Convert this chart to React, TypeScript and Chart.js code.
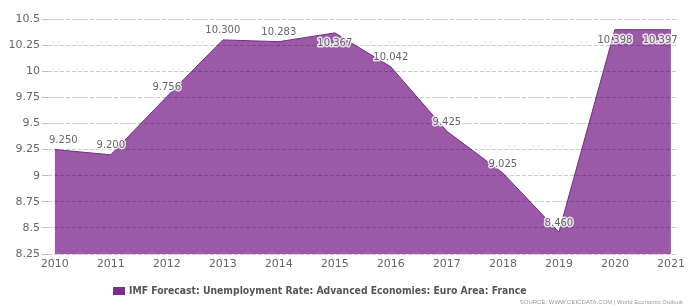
import React, { useEffect, useRef } from "react";
import { Chart, registerables } from "chart.js";

Chart.register(...registerables);

const years = [2010, 2011, 2012, 2013, 2014, 2015, 2016, 2017, 2018, 2019, 2020, 2021];
const values = [9.25, 9.2, 9.756, 10.3, 10.283, 10.367, 10.042, 9.425, 9.025, 8.46, 10.398, 10.397];
const yTicks = [8.25, 8.5, 8.75, 9, 9.25, 9.5, 9.75, 10, 10.25, 10.5];
const seriesName = "IMF Forecast: Unemployment Rate: Advanced Economies: Euro Area: France";
const sourceText = "SOURCE: WWW.CEICDATA.COM | World Economic Outlook";

const FONT = "'DejaVu Sans', Verdana, sans-serif";

const labelPlugin = {
  id: "labels",
  afterDraw(chart: any) {
    const ctx = chart.ctx;
    const meta = chart.getDatasetMeta(0);
    const area = chart.chartArea;
    ctx.save();
    ctx.font = `10px ${FONT}`;
    ctx.textAlign = "center";
    ctx.textBaseline = "middle";
    meta.data.forEach((pt: any, i: number) => {
      const txt = values[i].toFixed(3);
      const w = ctx.measureText(txt).width;
      let x = pt.x;
      let y = pt.y - 9;
      if (y - 6 < area.top) y = pt.y + 11;
      if (x - w / 2 < area.left + 1) x = area.left + 1 + w / 2;
      if (x + w / 2 > area.right) x = area.right - w / 2;
      ctx.lineJoin = "round";
      ctx.lineWidth = 3;
      ctx.strokeStyle = "rgba(255,255,255,0.8)";
      ctx.strokeText(txt, x, y);
      ctx.fillStyle = "#666";
      ctx.fillText(txt, x, y);
    });
    // legend
    ctx.fillStyle = "#7b2d8e";
    ctx.fillRect(113, 287, 12, 8);
    ctx.font = `bold 10.3px 'DejaVu Sans Condensed', ${FONT}`;
    ctx.textAlign = "left";
    ctx.fillStyle = "#555";
    ctx.fillText(seriesName, 129, 291);
    // source
    ctx.font = `6px 'Liberation Sans', Arial, sans-serif`;
    ctx.textAlign = "right";
    ctx.fillStyle = "#999";
    ctx.fillText(sourceText, 683, 302);
    ctx.restore();
  },
};

export default function App() {
  const ref = useRef<HTMLCanvasElement | null>(null);
  useEffect(() => {
    if (!ref.current) return;
    const chart = new Chart(ref.current, {
      type: "line",
      data: {
        datasets: [
          {
            label: seriesName,
            data: years.map((y, i) => ({ x: y, y: values[i] })),
            borderColor: "#6e2f82",
            borderWidth: 1,
            backgroundColor: "rgb(155, 89, 168)",
            fill: "start",
            pointRadius: 0,
            tension: 0,
          },
        ],
      },
      options: {
        animation: false,
        responsive: false,
        maintainAspectRatio: false,
        layout: { padding: { left: 0, right: 6, top: 19, bottom: 0 } },
        plugins: { legend: { display: false }, tooltip: { enabled: false } },
        scales: {
          x: {
            type: "linear",
            min: 2009.88,
            max: 2021.12,
            afterBuildTicks: (s: any) => {
              s.ticks = years.map((v) => ({ value: v }));
            },
            afterFit: (s: any) => {
              s.height = 53;
            },
            grid: { display: false, drawTicks: false },
            border: { display: false },
            ticks: {
              autoSkip: false,
              maxRotation: 0,
              padding: 4,
              color: "#666",
              font: { family: FONT, size: 11 },
              callback: (v: any) => String(v),
            },
          },
          y: {
            min: 8.25,
            max: 10.5,
            afterBuildTicks: (s: any) => {
              s.ticks = yTicks.map((v) => ({ value: v }));
            },
            afterFit: (s: any) => {
              s.width = 48;
            },
            grid: { z: 1, color: "rgba(0,0,0,0.2)", tickLength: 6, tickColor: "rgba(0,0,0,0.25)" },
            border: { display: false, dash: [4, 2] },
            ticks: {
              padding: 2,
              color: "#666",
              font: { family: FONT, size: 11 },
              callback: (v: any) => String(v),
            },
          },
        },
      },
      plugins: [labelPlugin],
    });
    return () => chart.destroy();
  }, []);
  return (
    <div style={{ position: "fixed", left: 0, top: 0, width: 689, height: 307, background: "#fff" }}>
      <canvas ref={ref} width={689} height={307} style={{ width: 689, height: 307, display: "block" }} />
    </div>
  );
}
